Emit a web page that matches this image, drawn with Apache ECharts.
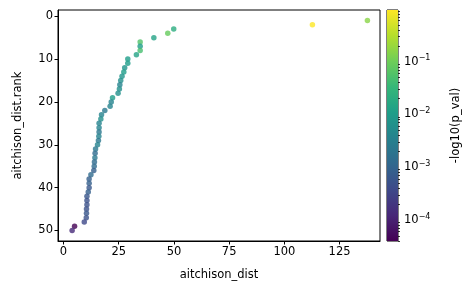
<!DOCTYPE html>
<html>
<head>
<meta charset="utf-8">
<script src="https://cdn.jsdelivr.net/npm/echarts@6/dist/echarts.min.js"></script>
<style>
  html, body { margin: 0; padding: 0; background: #fff; }
  #container { width: 471px; height: 294px; }
</style>
</head>
<body>
<div id="container"></div>
<script>
// values, ordered by rank (1 = largest distance)
var ranks = [1, 2, 3, 4, 5, 6, 7, 8, 9, 10,
    11, 12, 13, 14, 15, 16, 17, 18, 19, 20,
    21, 22, 23, 24, 25, 26, 27, 28, 29, 30,
    31, 32, 33, 34, 35, 36, 37, 38, 39, 40,
    41, 42, 43, 44, 45, 46, 47, 48, 49, 50];
var dists = [137.6, 112.7, 49.9, 47.2, 40.9, 34.7, 34.7, 34.7, 33.0, 29.1,
    29.1, 27.7, 27.3, 26.5, 25.9, 25.5, 25.3, 24.7, 22.2, 21.6,
    21.1, 18.7, 17.2, 16.9, 16.1, 16.1, 16.1, 16.0, 15.8, 15.4,
    14.5, 14.3, 14.2, 14.0, 13.9, 13.7, 12.4, 11.6, 11.6, 11.6,
    11.2, 10.6, 10.6, 10.6, 10.4, 10.4, 10.3, 9.4, 5.0, 3.9];
var pVals = [0.156, 0.955, 0.0207, 0.085, 0.0138, 0.0568, 0.0102, 0.0464, 0.0138, 0.0102,
    0.0102, 0.00755, 0.0102, 0.00755, 0.00617, 0.00372, 0.00617, 0.00617, 0.0102, 0.00372,
    0.00372, 0.00225, 0.00372, 0.00617, 0.00372, 0.00372, 0.00225, 0.00372, 0.00225, 0.00372,
    0.00225, 0.00136, 0.00225, 0.00136, 0.00136, 0.00082, 0.00136, 0.00082, 0.00082, 0.00061,
    0.00082, 0.00061, 0.000495, 0.000495, 0.000495, 0.00061, 0.000495, 0.000366, 0.00004, 0.000134];
var xTicks = [0, 25, 50, 75, 100, 125];
var yTicks = [0, 10, 20, 30, 40, 50];
var cbTicks = [-4, -3, -2, -1];

var viridis = ['#440154', '#482878', '#3e4989', '#31688e', '#26828e',
    '#1f9e89', '#35b779', '#6ece58', '#b5de2b', '#fde725'];

var points = [];
for (var i = 0; i < ranks.length; i++) {
    points.push([dists[i], ranks[i], Math.log10(pVals[i])]);
}
var cbMin = Math.log10(Math.min.apply(null, pVals));
var cbMax = Math.log10(Math.max.apply(null, pVals));

// minor ticks of the log colorbar
var cbMinor = [];
for (var n = -5; n <= 0; n++) {
    for (var k = 2; k <= 9; k++) {
        var v = n + Math.log10(k);
        if (v >= cbMin && v <= cbMax) cbMinor.push(v);
    }
}

var gradStops = [];
for (var j = 0; j < viridis.length; j++) {
    gradStops.push({ offset: 1 - j / (viridis.length - 1), color: viridis[j] });
}

var font = 'DejaVu Sans';
var fs = 11.5;

var myChart = echarts.init(document.getElementById('container'));

option = {
    animation: false,
    textStyle: { fontFamily: font },
    grid: [
        { left: 58, right: 91, top: 10, bottom: 53, show: true, borderColor: '#000', borderWidth: 1 },
        { left: 387, right: 73, top: 10, bottom: 53, show: true, borderColor: '#000', borderWidth: 1 }
    ],
    xAxis: [{
        gridIndex: 0,
        type: 'value',
        min: -2.5,
        max: 143.3,
        name: 'aitchison_dist',
        nameLocation: 'middle',
        nameGap: 28,
        nameTextStyle: { color: '#000', fontSize: fs, fontFamily: font },
        splitLine: { show: false },
        axisLine: { show: true, onZero: false, lineStyle: { color: '#000' } },
        axisTick: { show: true, length: 3.5, lineStyle: { color: '#000' }, customValues: xTicks },
        axisLabel: { color: '#000', fontSize: fs, margin: 5, customValues: xTicks }
    }, {
        gridIndex: 1,
        type: 'value',
        min: 0,
        max: 1,
        show: false
    }],
    yAxis: [{
        gridIndex: 0,
        type: 'value',
        inverse: true,
        min: -1.45,
        max: 52.45,
        name: 'aitchison_dist.rank',
        nameLocation: 'middle',
        nameGap: 34,
        nameTextStyle: { color: '#000', fontSize: fs, fontFamily: font },
        splitLine: { show: false },
        axisLine: { show: true, onZero: false, lineStyle: { color: '#000' } },
        axisTick: { show: true, length: 3.5, lineStyle: { color: '#000' }, customValues: yTicks },
        axisLabel: { color: '#000', fontSize: fs, margin: 5, customValues: yTicks }
    }, {
        gridIndex: 1,
        type: 'value',
        position: 'right',
        min: cbMin,
        max: cbMax,
        name: '-log10(p_val)',
        nameLocation: 'middle',
        nameRotate: 90,
        nameGap: 52,
        nameTextStyle: { color: '#000', fontSize: fs, fontFamily: font },
        splitLine: { show: false },
        axisLine: { show: false },
        axisTick: { show: true, length: 3.5, lineStyle: { color: '#000' }, customValues: cbTicks },
        axisLabel: {
            color: '#000',
            margin: 6,
            customValues: cbTicks,
            formatter: function (v) {
                return '{b|10}{s|\u2212' + Math.round(-v) + '}';
            },
            rich: {
                b: { fontSize: fs, fontFamily: font, color: '#000' },
                s: { fontSize: 8, fontFamily: font, color: '#000', padding: [0, 0, 7, 0] }
            }
        }
    }, {
        gridIndex: 1,
        type: 'value',
        position: 'right',
        min: cbMin,
        max: cbMax,
        splitLine: { show: false },
        axisLine: { show: false },
        axisTick: { show: true, length: 2, lineStyle: { color: '#000', width: 0.8 }, customValues: cbMinor },
        axisLabel: { show: false }
    }],
    visualMap: {
        show: false,
        type: 'continuous',
        seriesIndex: 0,
        dimension: 2,
        min: cbMin,
        max: cbMax,
        inRange: { color: viridis }
    },
    series: [{
        type: 'scatter',
        xAxisIndex: 0,
        yAxisIndex: 0,
        symbolSize: 5.5,
        data: points
    }, {
        type: 'custom',
        xAxisIndex: 1,
        yAxisIndex: 1,
        silent: true,
        encode: { x: 0, y: [1, 2] },
        data: [[0, cbMin, cbMax]],
        renderItem: function (params, api) {
            var p0 = api.coord([0, api.value(2)]);
            var p1 = api.coord([1, api.value(1)]);
            return {
                type: 'rect',
                shape: { x: p0[0], y: p0[1], width: p1[0] - p0[0], height: p1[1] - p0[1] },
                style: { fill: new echarts.graphic.LinearGradient(0, 0, 0, 1, gradStops) }
            };
        }
    }]
};

myChart.setOption(option);
</script>
</body>
</html>
